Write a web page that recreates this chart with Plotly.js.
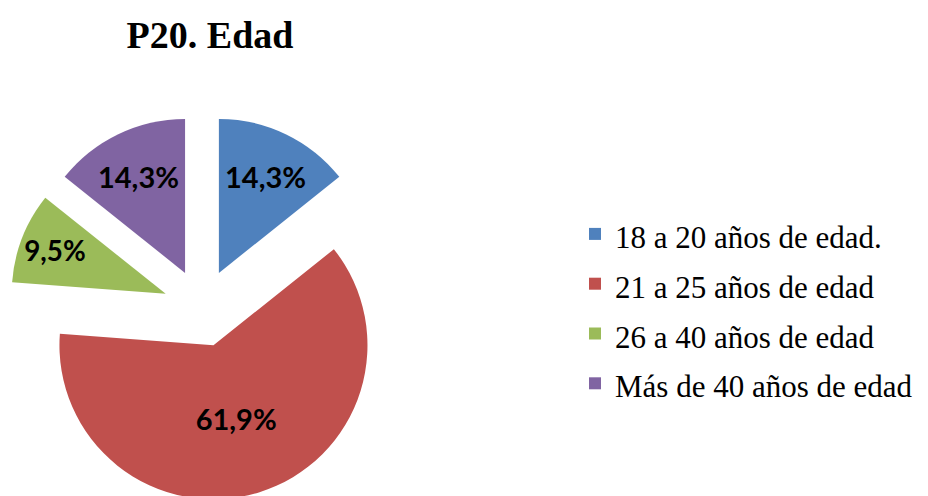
<!DOCTYPE html>
<html>
<head>
<meta charset="utf-8">
<script src="https://cdn.plot.ly/plotly-3.0.1.min.js"></script>
<style>
html, body { margin: 0; padding: 0; overflow: hidden; background: #fff; }
#chart { width: 928px; height: 510px; }
</style>
</head>
<body>
<div id="chart"></div>
<script>
const categories = ["18 a 20 años de edad.", "21 a 25 años de edad", "26 a 40 años de edad", "Más de 40 años de edad"];
const counts = [3, 13, 2, 3];
const colors = ["#4F81BD", "#C0504D", "#9BBB59", "#8064A2"];
const chartTitle = "P20. Edad";

const H = 510;
const legendLabels = categories.map(c =>
  '<span style="font-size:31px;font-family:\'Liberation Serif\',\'Times New Roman\',serif">' + c + '</span>');

const trace = {
  type: 'pie',
  labels: legendLabels,
  values: counts,
  sort: false,
  direction: 'clockwise',
  rotation: 0,
  pull: 0.253,
  marker: { colors: colors, line: { width: 0 } },
  texttemplate: '%{percent:.1%}',
  textposition: 'inside',
  insidetextorientation: 'horizontal',
  insidetextfont: { family: 'Lato, "Open Sans", sans-serif', size: 29, color: '#000', weight: 'bold' },
  hoverinfo: 'none',
  domain: { x: [0.0097, 0.4256], y: [(H - 501) / H, (H - 115) / H] }
};

const layout = {
  width: 928,
  height: H,
  margin: { l: 0, r: 0, t: 0, b: 0 },
  paper_bgcolor: '#fff',
  separators: ',.',
  title: {
    text: '<b>' + chartTitle + '</b>',
    font: { family: '"Liberation Serif", "Times New Roman", serif', size: 38, color: '#000' },
    x: 210 / 928, xanchor: 'center', xref: 'container',
    y: 1 - 35 / H, yanchor: 'middle', yref: 'container'
  },
  showlegend: true,
  legend: {
    x: 575 / 928, xanchor: 'left', xref: 'paper',
    y: 1 - 309 / H, yanchor: 'middle', yref: 'paper',
    font: { family: '"Liberation Serif", "Times New Roman", serif', size: 36, color: '#000' },
    bgcolor: 'rgba(0,0,0,0)', borderwidth: 0
  }
};

Plotly.newPlot('chart', [trace], layout, { displayModeBar: false, staticPlot: true });
</script>
</body>
</html>
